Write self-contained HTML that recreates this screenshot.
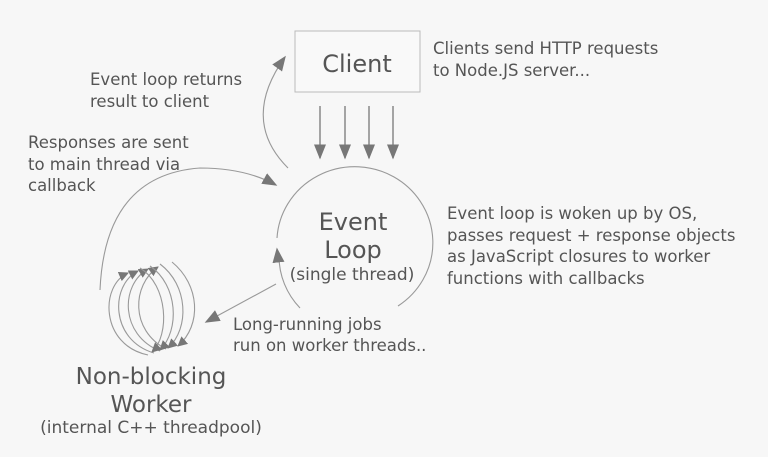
<!DOCTYPE html>
<html><head><meta charset="utf-8"><style>
html,body{margin:0;padding:0;background:#f7f7f7;}
svg{display:block;}
text{font-family:"DejaVu Sans","Liberation Sans",sans-serif;fill:#555;}
</style></head><body>
<svg width="768" height="457" viewBox="0 0 768 457" xmlns="http://www.w3.org/2000/svg">
<defs>
<marker id="a" viewBox="0 0 10 10" refX="9" refY="5" markerWidth="10" markerHeight="10" orient="auto" markerUnits="userSpaceOnUse">
<path d="M0,0 L10,5 L0,10 z" fill="#777"/></marker>
<marker id="b" viewBox="0 0 10 10" refX="9" refY="5" markerWidth="15" markerHeight="15" orient="auto" markerUnits="userSpaceOnUse">
<path d="M0,1 L10,5 L0,9 z" fill="#777"/></marker>
</defs>
<rect x="0" y="0" width="768" height="457" fill="#f7f7f7"/>
<rect x="295" y="31" width="125" height="61" fill="#f9f9f9" stroke="#bbb" stroke-width="1"/>
<text x="357" y="72" font-size="24" text-anchor="middle" fill="#444">Client</text>
<g stroke="#777" stroke-width="1.3" fill="none">
<line x1="320" y1="106" x2="320" y2="158" marker-end="url(#b)"/>
<line x1="345" y1="106" x2="345" y2="158" marker-end="url(#b)"/>
<line x1="369" y1="106" x2="369" y2="158" marker-end="url(#b)"/>
<line x1="393" y1="106" x2="393" y2="158" marker-end="url(#b)"/>
</g>
<g stroke="#999" stroke-width="1.1" fill="none">
<path d="M277,238 A78,76 0 1 1 398,306"/>
<path d="M300,308 A78,76 0 0 1 279,256"/>
<path d="M288,168 Q240,120 285,57" marker-end="url(#b)"/>
<path d="M100,290 Q105,175 200,168 Q245,168 276,185" marker-end="url(#b)"/>
<path d="M276,284 L206,322" marker-end="url(#b)"/>
<path d="M278,258 L277,249" marker-end="url(#b)"/>
<path d="M148,355 C100,345 100,285 128,273" marker-end="url(#a)"/>
<path d="M154,353 C110,340 110,285 138,271" marker-end="url(#a)"/>
<path d="M160,351 C120,335 120,285 148,269" marker-end="url(#a)"/>
<path d="M166,349 C130,330 132,285 158,267" marker-end="url(#a)"/>
<path d="M140,268 C168,285 170,335 152,352" marker-end="url(#a)"/>
<path d="M150,266 C178,285 180,330 160,350" marker-end="url(#a)"/>
<path d="M160,264 C188,285 190,328 168,348" marker-end="url(#a)"/>
<path d="M172,262 C200,285 202,325 178,346" marker-end="url(#a)"/>
</g>
<g font-size="16.5">
<text x="433" y="54">Clients send HTTP requests</text>
<text x="433" y="76">to Node.JS server...</text>
<text x="90" y="85">Event loop returns</text>
<text x="90" y="107">result to client</text>
<text x="28" y="148">Responses are sent</text>
<text x="28" y="170">to main thread via</text>
<text x="28" y="191">callback</text>
<text x="447" y="219">Event loop is woken up by OS,</text>
<text x="447" y="241">passes request + response objects</text>
<text x="447" y="262">as JavaScript closures to worker</text>
<text x="447" y="284">functions with callbacks</text>
<text x="233" y="330">Long-running jobs</text>
<text x="233" y="351">run on worker threads..</text>
</g>
<text x="352" y="280" font-size="17" text-anchor="middle">(single thread)</text>
<text x="151" y="433" font-size="17" text-anchor="middle">(internal C++ threadpool)</text>
<text x="353" y="230" font-size="24" text-anchor="middle">Event</text>
<text x="353" y="258" font-size="24" text-anchor="middle">Loop</text>
<text x="151" y="384" font-size="23" text-anchor="middle" fill="#444">Non-blocking</text>
<text x="151" y="412" font-size="23" text-anchor="middle" fill="#444">Worker</text>
</svg>
</body></html>
